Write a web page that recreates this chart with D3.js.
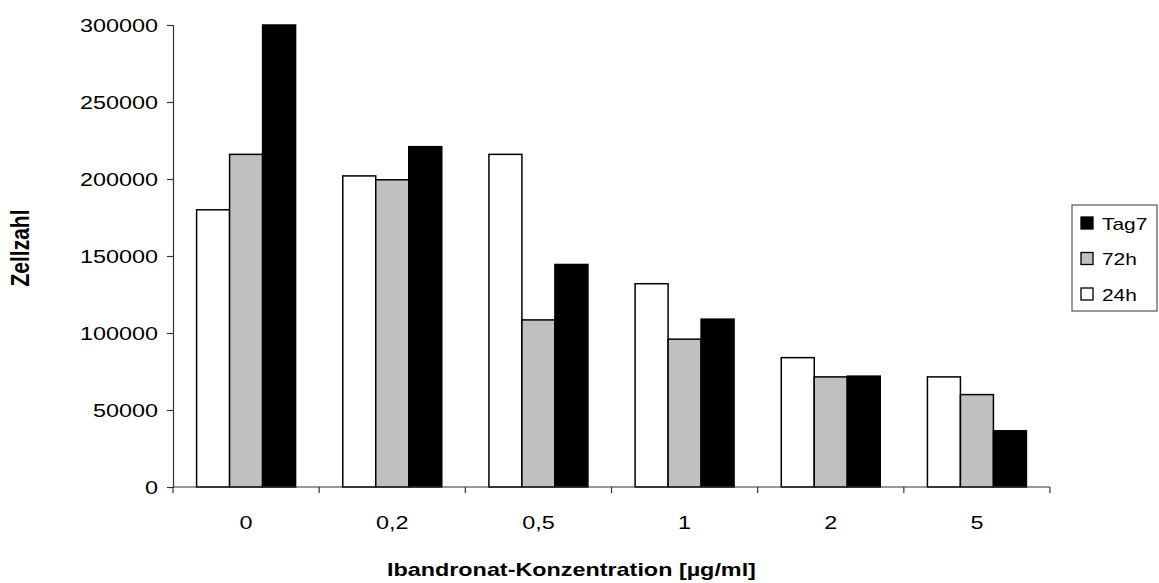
<!DOCTYPE html>
<html>
<head>
<meta charset="utf-8">
<script src="https://cdn.jsdelivr.net/npm/d3@7"></script>
<style>
  html, body { margin: 0; padding: 0; background: #fff; }
  svg { display: block; font-family: "Liberation Sans", Arial, sans-serif; }
</style>
</head>
<body>
<svg id="chart" width="1159" height="583"></svg>
<script>
// Ibandronat concentrations (µg/ml)
const categories = ["0", "0,2", "0,5", "1", "2", "5"];
// Cell counts per time point
const series = ["24h", "72h", "Tag7"];
const values24h = [180000, 202000, 216000, 132000, 84000, 71500];
const values72h = [216000, 199500, 108500, 96000, 71500, 60000];
const valuesTag7 = [300000, 221000, 144500, 109000, 72000, 36500];
const yTicks = [0, 50000, 100000, 150000, 200000, 250000, 300000];
const legendOrder = ["Tag7", "72h", "24h"];

const fills = { "24h": "#ffffff", "72h": "#c0c0c0", "Tag7": "#000000" };
const seriesValues = { "24h": values24h, "72h": values72h, "Tag7": valuesTag7 };

const svg = d3.select("#chart");
const plot = { left: 173, right: 1050, top: 25, bottom: 487 };
const sx = 1.23; // horizontal stretch of the text glyphs

const x0 = d3.scaleBand().domain(categories).range([plot.left, plot.right])
  .paddingInner(0).paddingOuter(0);
const x1 = d3.scaleBand().domain(series).range([0, x0.bandwidth()])
  .paddingInner(0).paddingOuter(0.715);
const y = d3.scaleLinear().domain([0, 300000]).range([plot.bottom, plot.top]);

// Bars
const groups = svg.append("g").selectAll("g")
  .data(categories).join("g")
  .attr("transform", d => `translate(${x0(d)},0)`);
groups.selectAll("rect")
  .data((c, i) => series.map(s => ({ s, v: seriesValues[s][i] })))
  .join("rect")
  .attr("x", d => x1(d.s))
  .attr("y", d => y(d.v))
  .attr("width", x1.bandwidth())
  .attr("height", d => y(0) - y(d.v))
  .attr("fill", d => fills[d.s])
  .attr("stroke", "#000")
  .attr("stroke-width", 1.5);

// Y axis
const yAxis = svg.append("g")
  .attr("transform", `translate(${plot.left},0)`)
  .call(d3.axisLeft(y).tickValues(yTicks).tickFormat(d3.format("d")).tickSize(6).tickPadding(9));
yAxis.select(".domain").attr("stroke", "#333").attr("stroke-width", 1.2);
yAxis.selectAll(".tick line").attr("stroke", "#333").attr("stroke-width", 1.2);
yAxis.selectAll(".tick text")
  .attr("font-size", 19).attr("fill", "#000")
  .attr("font-family", "Liberation Sans, Arial, sans-serif")
  .attr("transform", function () {
    const xx = +d3.select(this).attr("x");
    return `translate(${xx},0) scale(${sx},1) translate(${-xx},0)`;
  });

// X axis with ticks at category boundaries
const xAxisG = svg.append("g").attr("transform", `translate(0,${plot.bottom})`);
xAxisG.append("line")
  .attr("x1", plot.left).attr("x2", plot.right)
  .attr("stroke", "#333").attr("stroke-width", 1.2);
const boundaries = categories.map(c => x0(c)).concat([x0(categories[categories.length - 1]) + x0.bandwidth()]);
xAxisG.selectAll("line.tk").data(boundaries).join("line")
  .attr("class", "tk")
  .attr("x1", d => d).attr("x2", d => d)
  .attr("y1", 0).attr("y2", 6)
  .attr("stroke", "#333").attr("stroke-width", 1.2);
xAxisG.selectAll("text").data(categories).join("text")
  .attr("font-size", 19).attr("text-anchor", "middle")
  .attr("transform", d => `translate(${x0(d) + x0.bandwidth() / 2},42) scale(${sx},1)`)
  .text(d => d);

// Axis titles
svg.append("text")
  .attr("font-size", 19).attr("font-weight", "bold").attr("text-anchor", "start")
  .attr("transform", `translate(387,576) scale(${sx},1)`)
  .text("Ibandronat-Konzentration [µg/ml]");
svg.append("text")
  .attr("font-size", 21).attr("font-weight", "bold").attr("text-anchor", "middle")
  .attr("transform", `translate(29,248) scale(${sx},1) rotate(-90)`)
  .text("Zellzahl");

// Legend
const legend = svg.append("g").attr("transform", "translate(1072,205)");
legend.append("rect")
  .attr("width", 85).attr("height", 106)
  .attr("fill", "#fff").attr("stroke", "#555").attr("stroke-width", 1.2);
const items = legend.selectAll("g.item").data(legendOrder).join("g")
  .attr("class", "item")
  .attr("transform", (d, i) => `translate(0,${18 + i * 35.5})`);
items.append("rect")
  .attr("x", 9).attr("y", -6).attr("width", 12).attr("height", 12)
  .attr("fill", d => fills[d]).attr("stroke", "#000").attr("stroke-width", 1.3);
items.append("text")
  .attr("font-size", 17)
  .attr("transform", `translate(30,6.5) scale(${sx},1)`)
  .text(d => d);
</script>
</body>
</html>
